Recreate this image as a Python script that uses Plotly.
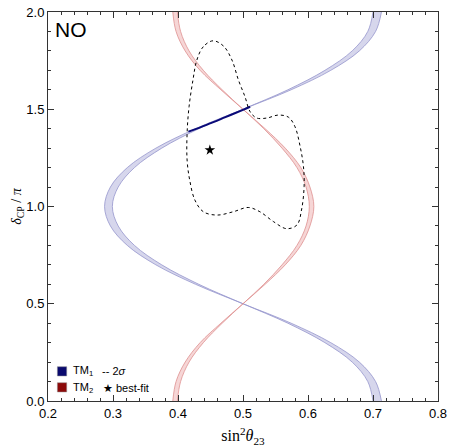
import plotly.graph_objects as go

# delta_CP / pi sampling
delta = [0.0, 0.1, 0.2, 0.3, 0.4, 0.5, 0.6, 0.7, 0.8, 0.9, 1.0,
         1.1, 1.2, 1.3, 1.4, 1.5, 1.6, 1.7, 1.8, 1.9, 2.0]

# TM1 band edges (sin^2 theta23)
tm1_outer = [0.713, 0.704, 0.679, 0.635, 0.574, 0.500, 0.427, 0.366, 0.322, 0.296, 0.287,
             0.296, 0.322, 0.366, 0.427, 0.500, 0.574, 0.635, 0.679, 0.704, 0.713]
tm1_inner = [0.700, 0.692, 0.668, 0.626, 0.569, 0.500, 0.432, 0.375, 0.333, 0.308, 0.299,
             0.308, 0.333, 0.375, 0.432, 0.500, 0.569, 0.626, 0.668, 0.692, 0.700]

# TM2 band edges
tm2_outer = [0.392, 0.397, 0.411, 0.434, 0.466, 0.500, 0.534, 0.565, 0.589, 0.603, 0.609,
             0.603, 0.589, 0.565, 0.534, 0.500, 0.466, 0.434, 0.411, 0.397, 0.392]
tm2_inner = [0.399, 0.404, 0.417, 0.439, 0.468, 0.500, 0.532, 0.560, 0.583, 0.597, 0.602,
             0.597, 0.583, 0.560, 0.532, 0.500, 0.468, 0.439, 0.417, 0.404, 0.399]

# TM1 segment inside 2 sigma region
seg_x = [0.416, 0.444, 0.472, 0.500, 0.511]
seg_y = [1.385, 1.420, 1.458, 1.497, 1.513]

# 2 sigma contour
c2_x = [0.454, 0.439, 0.429, 0.423, 0.417, 0.414, 0.414, 0.418, 0.426, 0.439, 0.460,
        0.485, 0.508, 0.526, 0.547, 0.567, 0.583, 0.590, 0.594, 0.593, 0.588, 0.580,
        0.570, 0.554, 0.537, 0.521, 0.511, 0.503, 0.493, 0.483, 0.470, 0.454]
c2_y = [1.852, 1.822, 1.753, 1.650, 1.513, 1.376, 1.239, 1.136, 1.033, 0.973, 0.956,
        0.973, 0.995, 0.973, 0.922, 0.886, 0.905, 0.982, 1.102, 1.205, 1.307, 1.410,
        1.459, 1.470, 1.455, 1.455, 1.487, 1.565, 1.650, 1.753, 1.825, 1.852]

# best fit
bf_x = [0.449]
bf_y = [1.29]

blue_edge = "rgb(150,150,205)"
blue_fill = "rgb(214,214,236)"
red_edge = "rgb(222,145,145)"
red_fill = "rgb(246,214,214)"

fig = go.Figure()

fig.add_trace(go.Scatter(x=tm1_inner, y=delta, mode="lines",
                         line=dict(color=blue_edge, width=0.8, shape="spline"),
                         showlegend=False, hoverinfo="skip"))
fig.add_trace(go.Scatter(x=tm1_outer, y=delta, mode="lines", fill="tonextx",
                         fillcolor=blue_fill,
                         line=dict(color=blue_edge, width=0.8, shape="spline"),
                         showlegend=False, hoverinfo="skip"))
fig.add_trace(go.Scatter(x=tm2_inner, y=delta, mode="lines",
                         line=dict(color=red_edge, width=0.8, shape="spline"),
                         showlegend=False, hoverinfo="skip"))
fig.add_trace(go.Scatter(x=tm2_outer, y=delta, mode="lines", fill="tonextx",
                         fillcolor=red_fill,
                         line=dict(color=red_edge, width=0.8, shape="spline"),
                         showlegend=False, hoverinfo="skip"))
fig.add_trace(go.Scatter(x=seg_x, y=seg_y, mode="lines",
                         line=dict(color="rgb(10,10,120)", width=2, shape="spline"),
                         showlegend=False))
fig.add_trace(go.Scatter(x=c2_x, y=c2_y, mode="lines",
                         line=dict(color="black", width=1, dash="3px,3px", shape="spline"),
                         showlegend=False))
fig.add_trace(go.Scatter(x=bf_x, y=bf_y, mode="markers",
                         marker=dict(symbol="star", size=8, color="black"),
                         showlegend=False))

axis_common = dict(
    showgrid=False, zeroline=False, showline=True, linecolor="#333", linewidth=1,
    mirror="ticks", ticks="inside", ticklen=6, tickcolor="#333", tickwidth=1,
    automargin=False, ticklabeloverflow="allow",
    tickfont=dict(family="Liberation Sans, Arial, sans-serif", size=13, color="black"),
)

fig.update_xaxes(range=[0.2, 0.8], dtick=0.1, tick0=0.2, tickformat=".1f",
                 minor=dict(dtick=0.02, ticks="inside", ticklen=3, tickcolor="#333"),
                 title=dict(text="sin<sup>2</sup><i>θ</i><sub>23</sub>",
                            font=dict(family="Liberation Serif, Times New Roman, serif", size=16, color="black"),
                            standoff=10),
                 **axis_common)
fig.update_yaxes(range=[0, 2], dtick=0.5, tick0=0, tickformat=".1f",
                 minor=dict(dtick=0.1, ticks="inside", ticklen=3, tickcolor="#333"),
                 title=dict(text="<i>δ</i><sub>CP</sub> / <i>π</i>",
                            font=dict(family="Liberation Serif, Times New Roman, serif", size=14, color="black"),
                            standoff=0),
                 **axis_common)

sans = "Liberation Sans, DejaVu Sans, Arial, sans-serif"
annotations = [
    dict(x=0.012, y=0.954, xref="paper", yref="paper", text="NO", showarrow=False,
         xanchor="left", yanchor="middle", font=dict(family=sans, size=21, color="black")),
    dict(x=0.058, y=0.0763, xref="paper", yref="paper", text="TM<sub>1</sub>", showarrow=False,
         xanchor="left", yanchor="middle", font=dict(family=sans, size=11, color="black")),
    dict(x=0.058, y=0.0334, xref="paper", yref="paper", text="TM<sub>2</sub>", showarrow=False,
         xanchor="left", yanchor="middle", font=dict(family=sans, size=11, color="black")),
    dict(x=0.134, y=0.0763, xref="paper", yref="paper", text="-- 2<i>σ</i>", showarrow=False,
         xanchor="left", yanchor="middle", font=dict(family=sans, size=11, color="black")),
    dict(x=0.136, y=0.0334, xref="paper", yref="paper", text="★ best-fit", showarrow=False,
         xanchor="left", yanchor="middle", font=dict(family=sans, size=11, color="black")),
]
shapes = [
    dict(type="rect", xref="paper", yref="paper", x0=0.024, x1=0.048, y0=0.0643, y1=0.0882,
         fillcolor="rgb(10,10,110)", line=dict(color="rgb(150,150,150)", width=0.5)),
    dict(type="rect", xref="paper", yref="paper", x0=0.024, x1=0.048, y0=0.0231, y1=0.047,
         fillcolor="rgb(140,10,10)", line=dict(color="rgb(150,150,150)", width=0.5)),
]

fig.update_layout(
    width=450, height=447,
    margin=dict(l=48, r=12, t=12, b=46),
    plot_bgcolor="white", paper_bgcolor="white",
    annotations=annotations, shapes=shapes,
    showlegend=False,
)

# remove the default 8px page margin so the figure fills the window exactly
fig.write_html("out.html",
               config={"displayModeBar": False},
               post_script="document.body.style.margin='0';document.body.style.overflow='hidden';")
